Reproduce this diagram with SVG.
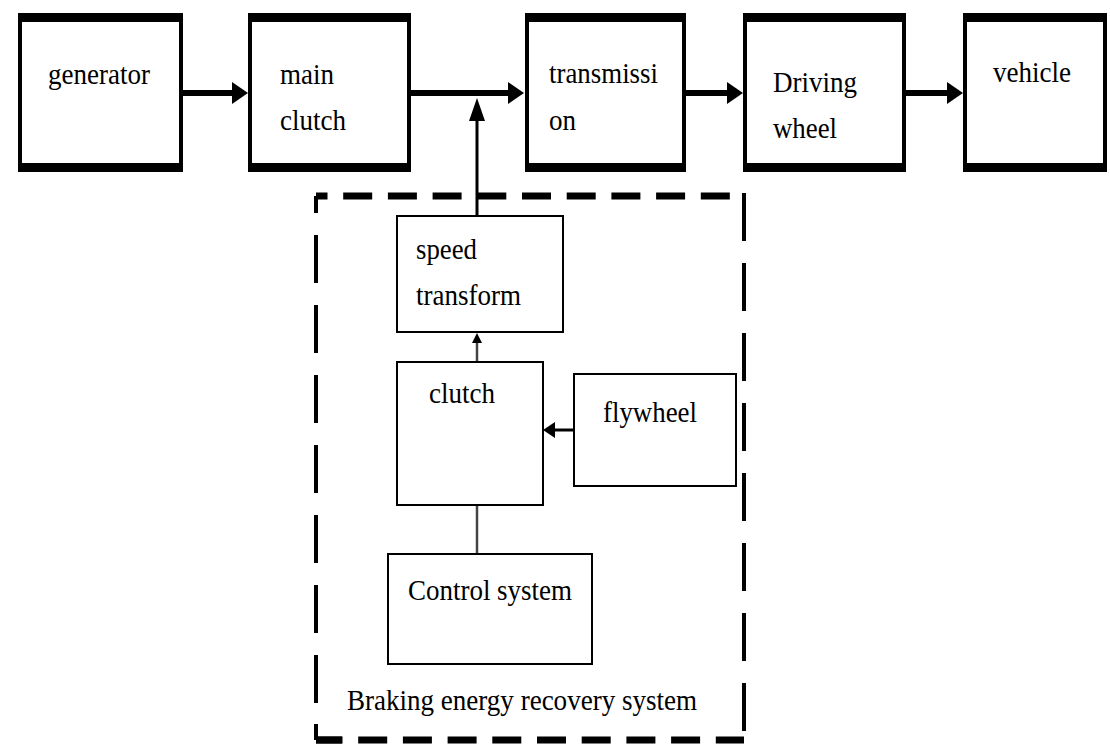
<svg xmlns="http://www.w3.org/2000/svg" width="1110" height="747" viewBox="0 0 1110 747">
<style>
.box{fill:#fff;stroke:#000;stroke-width:4}
.band{fill:#000}
.thin{fill:#fff;stroke:#000;stroke-width:2}
.lbl{font-family:"Liberation Serif","Times New Roman",serif;font-size:30px;fill:#000}
.main{stroke:#000;stroke-width:6;fill:none}
.mid{stroke:#000;stroke-width:3;fill:none}
.grey{stroke:#444;stroke-width:2.5;fill:none}
.dashH{stroke:#000;stroke-width:7;fill:none;stroke-dasharray:29 15.7}
.dashV{stroke:#000;stroke-width:4;fill:none;stroke-dasharray:48 22}
</style>
<defs>
<marker id="big" markerUnits="userSpaceOnUse" markerWidth="16" markerHeight="22" refX="0" refY="11" orient="auto"><path d="M0,0 L16,11 L0,22 z" fill="#000"/></marker>
<marker id="up" markerUnits="userSpaceOnUse" markerWidth="23" markerHeight="16" refX="0" refY="8" orient="auto"><path d="M0,0 L23,8 L0,16 z" fill="#000"/></marker>
<marker id="small" markerUnits="userSpaceOnUse" markerWidth="10" markerHeight="10" refX="0" refY="5" orient="auto"><path d="M0,0 L10,5 L0,10 z" fill="#000"/></marker>
<marker id="mid" markerUnits="userSpaceOnUse" markerWidth="12" markerHeight="16" refX="0" refY="8" orient="auto"><path d="M0,0 L12,8 L0,16 z" fill="#000"/></marker>
</defs>
<rect width="1110" height="747" fill="#fff"/>

<g id="recovery-boundary">
<line class="dashH" x1="316" y1="196" x2="744" y2="196" stroke-dashoffset="17.5"/>
<line class="dashH" x1="316" y1="740" x2="744" y2="740" stroke-dashoffset="2.5"/>
<line class="dashV" x1="316" y1="196" x2="316" y2="740" stroke-dashoffset="31"/>
<line class="dashV" x1="744" y1="193" x2="744" y2="740"/>
<line stroke="#000" stroke-width="7" x1="316" y1="740" x2="342" y2="740"/>
<line stroke="#000" stroke-width="4" x1="316" y1="724" x2="316" y2="740"/>
<text class="lbl" x="347" y="710" textLength="350" lengthAdjust="spacingAndGlyphs">Braking energy recovery system</text>
</g>

<g id="connectors">
<line class="main" x1="183" y1="93" x2="232" y2="93" marker-end="url(#big)"/>
<line class="main" x1="411" y1="93" x2="508" y2="93" marker-end="url(#big)"/>
<line class="main" x1="686" y1="93" x2="727" y2="93" marker-end="url(#big)"/>
<line class="main" x1="906" y1="93" x2="947" y2="93" marker-end="url(#big)"/>
<line class="mid" x1="477" y1="216" x2="477" y2="121" marker-end="url(#up)"/>
<line class="grey" x1="477" y1="362" x2="477" y2="343" marker-end="url(#small)"/>
<line class="mid" stroke-width="4" x1="574" y1="430" x2="555" y2="430" marker-end="url(#mid)"/>
<line class="grey" x1="477" y1="505" x2="477" y2="554"/>
</g>

<g id="generator">
<rect class="box" x="20" y="17" width="161" height="151"/>
<rect class="band" x="18" y="13" width="165" height="9"/>
<rect class="band" x="18" y="163" width="165" height="9"/>
<text class="lbl" x="48" y="84" textLength="102" lengthAdjust="spacingAndGlyphs">generator</text>
</g>
<g id="main-clutch">
<rect class="box" x="250" y="17" width="159" height="151"/>
<rect class="band" x="248" y="13" width="163" height="9"/>
<rect class="band" x="248" y="163" width="163" height="9"/>
<text class="lbl" x="280" y="84" textLength="54" lengthAdjust="spacingAndGlyphs">main</text>
<text class="lbl" x="280" y="130" textLength="66" lengthAdjust="spacingAndGlyphs">clutch</text>
</g>
<g id="transmission">
<rect class="box" x="527" y="17" width="157" height="151"/>
<rect class="band" x="525" y="13" width="161" height="9"/>
<rect class="band" x="525" y="163" width="161" height="9"/>
<text class="lbl" x="549" y="83" textLength="109" lengthAdjust="spacingAndGlyphs">transmissi</text>
<text class="lbl" x="549" y="130" textLength="27" lengthAdjust="spacingAndGlyphs">on</text>
</g>
<g id="driving-wheel">
<rect class="box" x="745" y="17" width="159" height="151"/>
<rect class="band" x="743" y="13" width="163" height="9"/>
<rect class="band" x="743" y="163" width="163" height="9"/>
<text class="lbl" x="773" y="92" textLength="84" lengthAdjust="spacingAndGlyphs">Driving</text>
<text class="lbl" x="773" y="138" textLength="64" lengthAdjust="spacingAndGlyphs">wheel</text>
</g>
<g id="vehicle">
<rect class="box" x="965" y="17" width="140" height="151"/>
<rect class="band" x="963" y="13" width="144" height="9"/>
<rect class="band" x="963" y="163" width="144" height="9"/>
<text class="lbl" x="993" y="82" textLength="78" lengthAdjust="spacingAndGlyphs">vehicle</text>
</g>

<g id="speed-transform">
<rect class="thin" x="397" y="216" width="166" height="116"/>
<text class="lbl" x="416" y="259" textLength="61" lengthAdjust="spacingAndGlyphs">speed</text>
<text class="lbl" x="416" y="305" textLength="105" lengthAdjust="spacingAndGlyphs">transform</text>
</g>
<g id="clutch">
<rect class="thin" x="397" y="362" width="146" height="143"/>
<text class="lbl" x="429" y="403" textLength="66" lengthAdjust="spacingAndGlyphs">clutch</text>
</g>
<g id="flywheel">
<rect class="thin" x="574" y="374" width="162" height="112"/>
<text class="lbl" x="603" y="422" textLength="94" lengthAdjust="spacingAndGlyphs">flywheel</text>
</g>
<g id="control-system">
<rect class="thin" x="388" y="554" width="204" height="110"/>
<text class="lbl" x="408" y="600" textLength="164" lengthAdjust="spacingAndGlyphs">Control system</text>
</g>
</svg>
